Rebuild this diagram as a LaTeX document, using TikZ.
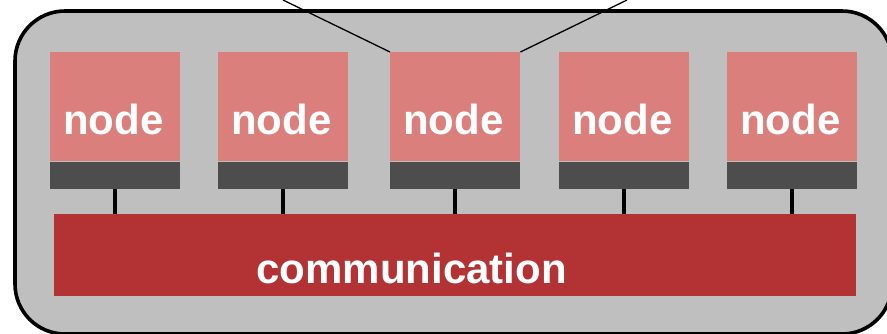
\documentclass[tikz,border=0pt]{standalone}
\usepackage{fontspec}
\setmainfont{Liberation Sans}
\definecolor{frame}{RGB}{191,191,191}
\definecolor{nodepink}{RGB}{219,127,124}
\definecolor{bardark}{RGB}{77,77,77}
\definecolor{commred}{RGB}{179,50,52}
\tikzset{
  pinkbox/.style={fill=nodepink, draw=none, minimum width=130pt, minimum height=109pt, inner sep=0pt, anchor=north west},
  darkbar/.style={fill=bardark, draw=none, minimum width=130pt, minimum height=27pt, inner sep=0pt, anchor=north},
  commbox/.style={fill=commred, draw=none, minimum width=802pt, minimum height=82pt, inner sep=0pt, anchor=north west},
  bigtext/.style={text=white, font=\fontsize{42}{48}\selectfont\bfseries, inner sep=0pt, anchor=base},
  stem/.style={draw=black, line width=4pt},
  uplink/.style={draw=black, line width=1.3pt},
}
\begin{document}
\begin{tikzpicture}[x=1pt, y=-1pt]
\useasboundingbox (0,0) rectangle (887,333);
% enclosing machine
\draw[fill=frame, draw=black, line width=3.6pt, rounded corners=50pt] (15,11) rectangle (892,334);
% communication layer
\node[commbox] (comm) at (54,214) {};
\node[bigtext] at (411.5,283) {communication};
% compute nodes with their interface bars and links to the communication layer
\foreach \i/\x in {1/50, 2/218, 3/390, 4/559, 5/727} {
  \node[pinkbox] (n\i) at (\x,52) {};
  \node[darkbar] (b\i) at (n\i.south) {};
  \node[bigtext] at ([xshift=-2pt]n\i.center |- 0,134) {node};
  \draw[stem] (b\i.south) -- (b\i.south |- comm.north);
}
% links leaving the machine from the middle node
\coordinate (outl) at (283,0);
\coordinate (outr) at (627,0);
\draw[uplink] (n3.north west) -- (outl);
\draw[uplink] (n3.north east) -- (outr);
\end{tikzpicture}
\end{document}
